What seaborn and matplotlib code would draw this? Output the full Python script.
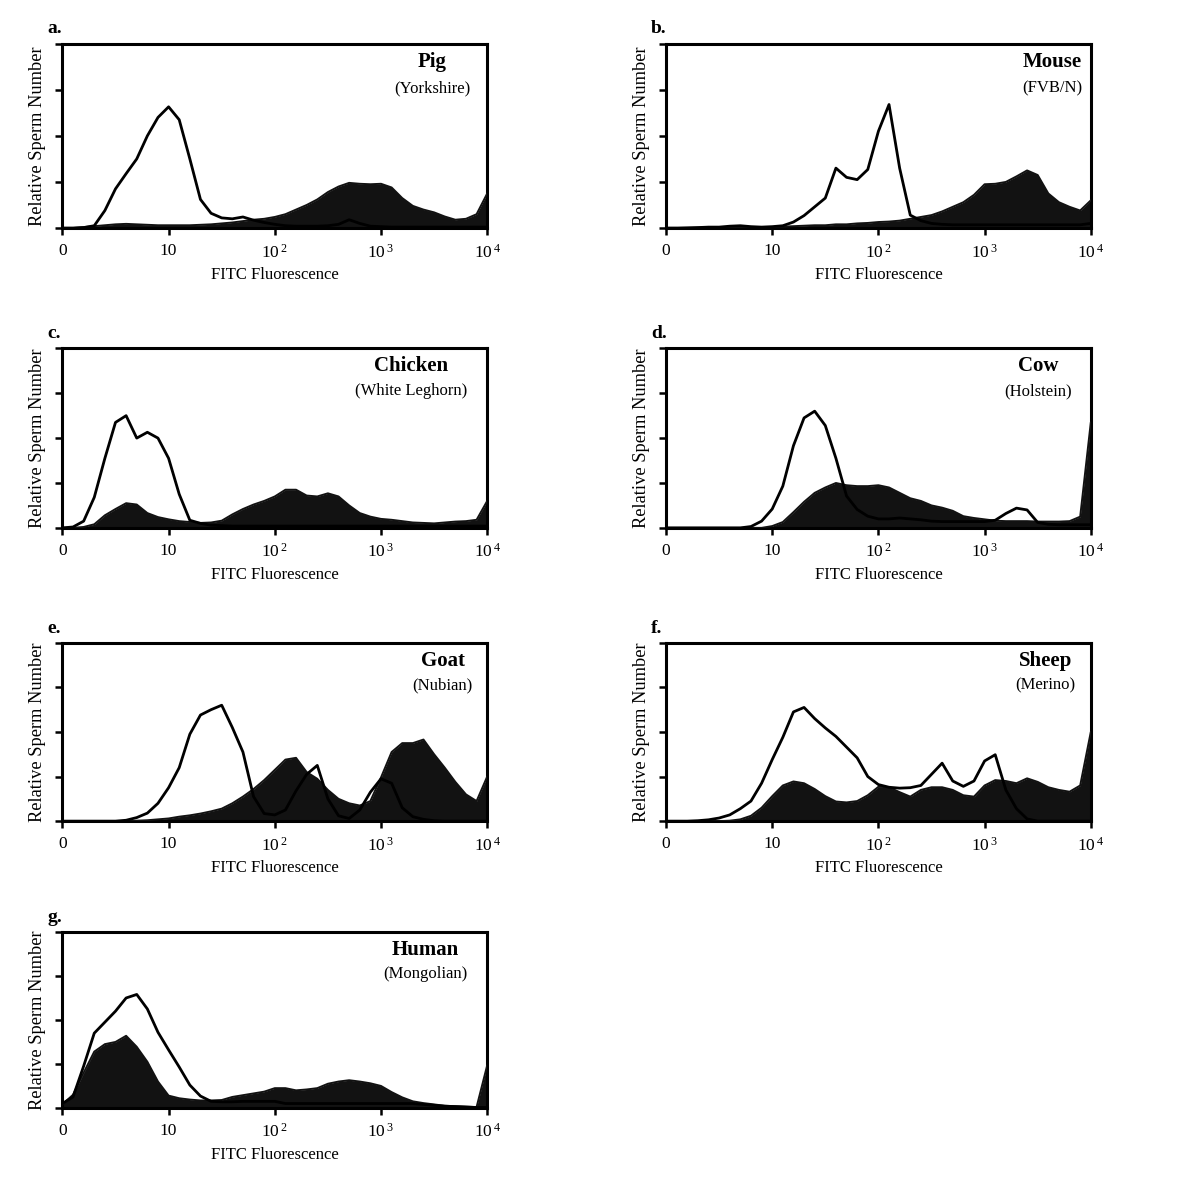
import numpy as np
import pandas as pd
import matplotlib
matplotlib.use('Agg')
import matplotlib.pyplot as plt
from matplotlib.ticker import FixedLocator, FixedFormatter, NullLocator
import seaborn as sns

# ============================================================
# DATA: FITC histograms, 10 channels per decade (1 .. 10^4)
# ctrl = open outline, test = filled black histogram
# ============================================================
fitc = 10 ** np.linspace(0, 4, 41)

tags = ['a.', 'b.', 'c.', 'd.', 'e.', 'f.', 'g.']
species = ['Pig', 'Mouse', 'Chicken', 'Cow', 'Goat', 'Sheep', 'Human']
breeds = ['(Yorkshire)', '(FVB/N)', '(White Leghorn)', '(Holstein)',
          '(Nubian)', '(Merino)', '(Mongolian)']
tick_values = [1, 10, 100, 1000, 10000]
tick_labels = ['0', '10', r'$\mathregular{10^{\,2}}$',
               r'$\mathregular{10^{\,3}}$', r'$\mathregular{10^{\,4}}$']

pig_ctrl = [0, 0, 0.01, 0.05, 0.38, 0.85, 1.18, 1.5, 2.0, 2.4,
            2.63, 2.35, 1.5, 0.62, 0.32, 0.22, 0.2, 0.24, 0.17, 0.12,
            0.08, 0.05, 0.04, 0.04, 0.04, 0.05, 0.08, 0.18, 0.1, 0.04,
            0.03, 0.02, 0.02, 0.02, 0.02, 0.02, 0.02, 0.02, 0.02, 0.02, 0.02]
pig_test = [0, 0, 0.02, 0.04, 0.06, 0.08, 0.09, 0.08, 0.07, 0.06,
            0.06, 0.06, 0.06, 0.07, 0.08, 0.1, 0.12, 0.15, 0.18, 0.2,
            0.24, 0.3, 0.4, 0.5, 0.62, 0.78, 0.9, 0.98, 0.96, 0.95,
            0.96, 0.88, 0.65, 0.48, 0.4, 0.34, 0.25, 0.18, 0.2, 0.3, 0.75]

mouse_ctrl = [0, 0, 0, 0.01, 0.02, 0.02, 0.04, 0.05, 0.03, 0.02,
              0.03, 0.05, 0.13, 0.27, 0.46, 0.65, 1.3, 1.1, 1.05, 1.27,
              2.1, 2.68, 1.3, 0.28, 0.16, 0.1, 0.08, 0.07, 0.07, 0.07,
              0.07, 0.07, 0.07, 0.07, 0.07, 0.07, 0.07, 0.07, 0.07, 0.07, 0.1]
mouse_test = [0, 0, 0.01, 0.01, 0.01, 0.02, 0.02, 0.02, 0.02, 0.02,
              0.02, 0.03, 0.04, 0.05, 0.06, 0.06, 0.08, 0.08, 0.1, 0.11,
              0.13, 0.14, 0.16, 0.2, 0.24, 0.28, 0.36, 0.46, 0.56, 0.72,
              0.95, 0.96, 1.0, 1.12, 1.25, 1.15, 0.75, 0.56, 0.46, 0.38, 0.6]

chicken_ctrl = [0, 0.02, 0.15, 0.68, 1.55, 2.35, 2.5, 2.0, 2.13, 2.0,
                1.55, 0.75, 0.17, 0.1, 0.06, 0.05, 0.04, 0.04, 0.04, 0.04,
                0.04, 0.04, 0.04, 0.04, 0.04, 0.04, 0.04, 0.04, 0.04, 0.04,
                0.04, 0.04, 0.04, 0.04, 0.04, 0.04, 0.04, 0.04, 0.04, 0.04, 0.04]
chicken_test = [0, 0, 0.02, 0.08, 0.28, 0.42, 0.55, 0.52, 0.33, 0.24,
                0.19, 0.15, 0.13, 0.11, 0.12, 0.16, 0.3, 0.42, 0.52, 0.6,
                0.7, 0.85, 0.85, 0.72, 0.7, 0.77, 0.7, 0.5, 0.33, 0.25,
                0.2, 0.18, 0.15, 0.12, 0.11, 0.1, 0.12, 0.14, 0.15, 0.18, 0.6]

cow_ctrl = [0, 0, 0, 0, 0, 0, 0, 0, 0.03, 0.15,
            0.42, 0.93, 1.83, 2.45, 2.6, 2.28, 1.55, 0.71, 0.41, 0.26,
            0.2, 0.2, 0.22, 0.2, 0.18, 0.15, 0.14, 0.14, 0.14, 0.14,
            0.14, 0.17, 0.32, 0.44, 0.4, 0.12, 0.08, 0.07, 0.07, 0.07, 0.07]
cow_test = [0, 0, 0, 0, 0, 0, 0, 0, 0, 0,
            0.04, 0.13, 0.35, 0.58, 0.78, 0.9, 1.0, 0.95, 0.93, 0.93,
            0.95, 0.9, 0.78, 0.66, 0.6, 0.5, 0.45, 0.38, 0.26, 0.22,
            0.19, 0.16, 0.15, 0.15, 0.15, 0.14, 0.14, 0.14, 0.15, 0.25, 2.35]

goat_ctrl = [0, 0, 0, 0, 0, 0, 0.02, 0.08, 0.18, 0.4,
             0.75, 1.2, 1.95, 2.38, 2.5, 2.6, 2.1, 1.55, 0.55, 0.17,
             0.14, 0.25, 0.68, 1.05, 1.25, 0.5, 0.12, 0.06, 0.25, 0.65,
             0.95, 0.85, 0.3, 0.1, 0.04, 0.01, 0, 0, 0, 0, 0]
goat_test = [0, 0, 0, 0, 0, 0, 0, 0.01, 0.02, 0.04,
             0.06, 0.1, 0.13, 0.17, 0.22, 0.28, 0.4, 0.55, 0.72, 0.92,
             1.15, 1.38, 1.42, 1.1, 0.95, 0.7, 0.5, 0.4, 0.35, 0.45,
             0.98, 1.55, 1.75, 1.75, 1.83, 1.5, 1.2, 0.88, 0.6, 0.45, 1.0]

sheep_ctrl = [0, 0, 0, 0.01, 0.03, 0.07, 0.14, 0.28, 0.45, 0.85,
              1.38, 1.88, 2.45, 2.55, 2.3, 2.09, 1.9, 1.66, 1.42, 1.0,
              0.82, 0.76, 0.74, 0.75, 0.8, 1.05, 1.3, 0.9, 0.78, 0.9,
              1.35, 1.49, 0.7, 0.28, 0.05, 0, 0, 0, 0, 0, 0]
sheep_test = [0, 0, 0, 0, 0, 0, 0.01, 0.04, 0.12, 0.3,
              0.56, 0.8, 0.89, 0.85, 0.72, 0.56, 0.44, 0.42, 0.45, 0.58,
              0.77, 0.76, 0.65, 0.55, 0.7, 0.76, 0.76, 0.7, 0.58, 0.55,
              0.8, 0.92, 0.9, 0.85, 0.96, 0.88, 0.76, 0.7, 0.66, 0.8, 2.0]

human_ctrl = [0.1, 0.25, 0.95, 1.7, 1.95, 2.2, 2.5, 2.58, 2.25, 1.72,
              1.32, 0.93, 0.52, 0.27, 0.15, 0.14, 0.14, 0.15, 0.15, 0.15,
              0.15, 0.1, 0.1, 0.1, 0.1, 0.1, 0.1, 0.1, 0.1, 0.1,
              0.1, 0.1, 0.1, 0.1, 0.08, 0.06, 0.04, 0.03, 0.02, 0.01, 0.01]
human_test = [0.08, 0.3, 0.8, 1.28, 1.45, 1.5, 1.64, 1.39, 1.05, 0.6,
              0.28, 0.22, 0.19, 0.17, 0.17, 0.18, 0.25, 0.29, 0.33, 0.37,
              0.45, 0.45, 0.4, 0.42, 0.45, 0.55, 0.6, 0.63, 0.6, 0.56,
              0.5, 0.36, 0.24, 0.15, 0.11, 0.08, 0.05, 0.04, 0.03, 0.02, 0.97]

ctrl_series = [pig_ctrl, mouse_ctrl, chicken_ctrl, cow_ctrl, goat_ctrl, sheep_ctrl, human_ctrl]
test_series = [pig_test, mouse_test, chicken_test, cow_test, goat_test, sheep_test, human_test]

# ============================================================
# LAYOUT
# ============================================================
sns.set_theme(style='ticks')
plt.rcParams['font.family'] = ['Liberation Serif', 'DejaVu Serif']
plt.rcParams['mathtext.fontset'] = 'custom'
plt.rcParams['mathtext.rm'] = 'Liberation Serif'
plt.rcParams['text.color'] = 'black'
plt.rcParams['axes.labelcolor'] = 'black'

fig = plt.figure(figsize=(12, 11.97), dpi=100)

col_left = [0.052, 0.555]
row_bottom = [0.8095, 0.559, 0.314, 0.0744]
row_height = [0.154, 0.150, 0.149, 0.147]
ax_width = 0.354
label_x = [0.87, 0.91, 0.82, 0.877, 0.895, 0.894, 0.855]

for i in range(7):
    r, c = divmod(i, 2)
    ax = fig.add_axes([col_left[c], row_bottom[r], ax_width, row_height[r]])

    df = pd.DataFrame({'fitc': fitc, 'ctrl': ctrl_series[i], 'test': test_series[i]})

    # filled histogram (test)
    ax.fill_between(df['fitc'], 0, df['test'], color='#121212', lw=0, zorder=2)
    sns.lineplot(data=df, x='fitc', y='test', ax=ax, color='#121212', lw=1.4, zorder=3)
    # open histogram (control)
    sns.lineplot(data=df, x='fitc', y='ctrl', ax=ax, color='black', lw=2.0, zorder=4)

    ax.set_xscale('log')
    ax.set_xlim(1, 10000)
    ax.set_ylim(0, 4)
    ax.xaxis.set_major_locator(FixedLocator(tick_values))
    ax.xaxis.set_major_formatter(FixedFormatter(tick_labels))
    ax.xaxis.set_minor_locator(NullLocator())
    ax.set_yticks([0, 1, 2, 3, 4])
    ax.set_yticklabels([])

    for sp in ax.spines.values():
        sp.set_visible(True)
        sp.set_linewidth(2.2)
        sp.set_color('black')
    ax.tick_params(axis='both', direction='out', length=5, width=1.8,
                   colors='black', labelcolor='black')
    ax.tick_params(axis='x', labelsize=12.5, pad=6)

    ax.set_xlabel('FITC Fluorescence', fontsize=12, labelpad=4)
    ax.set_ylabel('Relative Sperm Number', fontsize=13.2, labelpad=3)

    ax.text(-0.035, 1.035, tags[i], transform=ax.transAxes, fontsize=14,
            fontweight='bold', ha='left', va='bottom')
    ax.text(label_x[i], 0.9, species[i], transform=ax.transAxes, fontsize=15,
            fontweight='bold', ha='center', va='center')
    ax.text(label_x[i], 0.76, breeds[i], transform=ax.transAxes, fontsize=12,
            ha='center', va='center')

fig.savefig('out.png', dpi=100, facecolor='white')
plt.close(fig)
